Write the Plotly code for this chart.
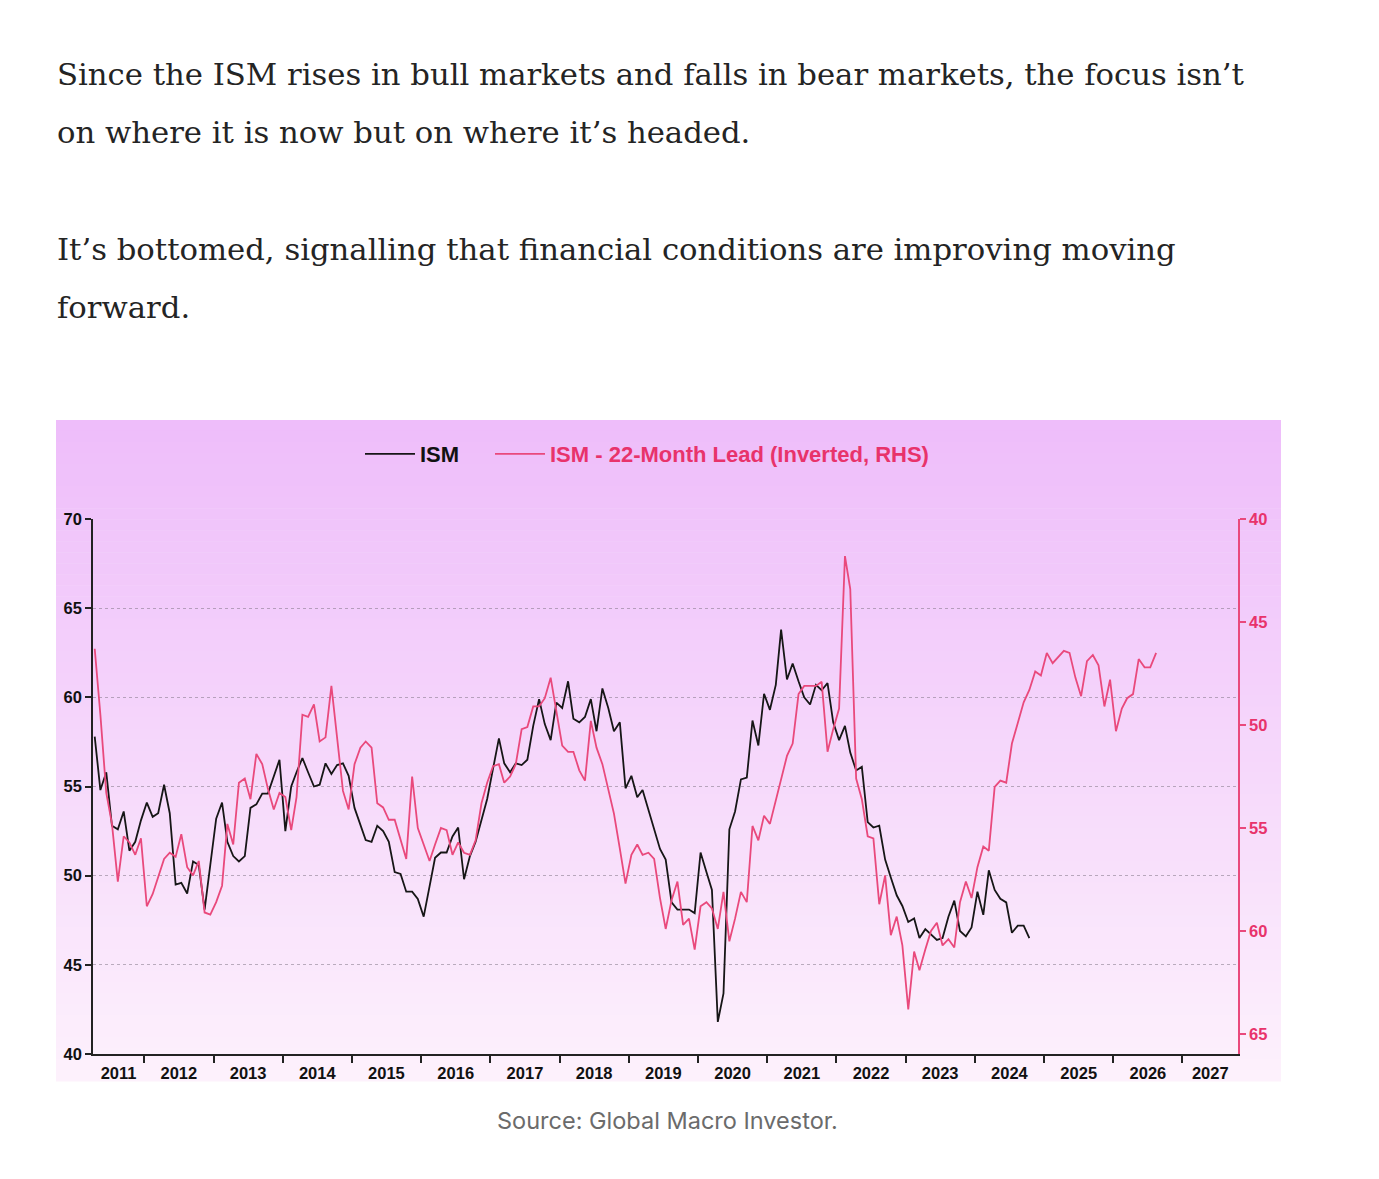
import plotly.graph_objects as go
import pandas as pd

# ---------------- data ----------------
# Monthly ISM Manufacturing PMI, Jun 2009 .. Oct 2024
ism_first_month = "2009-06-01"
ism_values = [
    # 2009 Jun-Dec
    46.3, 49.5, 53.3, 54.8, 57.6, 55.4, 55.7,
    # 2010
    56.3, 55.5, 58.8, 58.2, 57.4, 56.5, 56.2, 56.4, 55.3, 56.9, 57.3, 56.6,
    # 2011
    59.1, 59.2, 58.6, 57.8, 54.8, 55.8, 52.8, 52.6, 53.6, 51.4, 51.9, 53.1,
    # 2012
    54.1, 53.3, 53.5, 55.1, 53.5, 49.5, 49.6, 49.0, 50.8, 50.6, 48.1, 50.6,
    # 2013
    53.2, 54.1, 51.9, 51.1, 50.8, 51.1, 53.8, 54.0, 54.6, 54.6, 55.6, 56.5,
    # 2014
    52.5, 55.0, 55.8, 56.6, 55.8, 55.0, 55.1, 56.3, 55.7, 56.2, 56.3, 55.6,
    # 2015
    53.8, 52.8, 52.0, 51.9, 52.8, 52.5, 51.9, 50.2, 50.1, 49.1, 49.1, 48.7,
    # 2016
    47.7, 49.4, 51.0, 51.3, 51.3, 52.2, 52.7, 49.8, 51.1, 51.9, 53.1, 54.3,
    # 2017
    56.0, 57.7, 56.3, 55.8, 56.3, 56.2, 56.5, 58.4, 59.9, 58.5, 57.6, 59.7,
    # 2018
    59.4, 60.9, 58.8, 58.6, 58.9, 59.9, 58.1, 60.5, 59.4, 58.1, 58.6, 54.9,
    # 2019
    55.6, 54.4, 54.8, 53.7, 52.6, 51.5, 50.9, 48.5, 48.1, 48.1, 48.1, 47.9,
    # 2020
    51.3, 50.2, 49.2, 41.8, 43.4, 52.6, 53.6, 55.4, 55.5, 58.7, 57.3, 60.2,
    # 2021
    59.3, 60.7, 63.8, 61.0, 61.9, 60.9, 60.0, 59.6, 60.7, 60.4, 60.8, 58.6,
    # 2022
    57.6, 58.4, 56.9, 55.9, 56.1, 53.0, 52.7, 52.8, 50.9, 49.9, 48.9, 48.3,
    # 2023
    47.4, 47.6, 46.5, 47.0, 46.7, 46.4, 46.5, 47.7, 48.6, 46.9, 46.6, 47.1,
    # 2024 Jan-Oct
    49.1, 47.8, 50.3, 49.2, 48.7, 48.5, 46.8, 47.2, 47.2, 46.5,
]
ism_shown_from = "2011-04-01"      # first month of the black ISM line
lead_months = 22                     # lead applied to the pink series

years = list(range(2011, 2028))
left_ticks = [40, 45, 50, 55, 60, 65, 70]
right_ticks = [40, 45, 50, 55, 60, 65]
x_range = ["2011-04-06", "2027-10-21"]

name_ism = "ISM"
name_lead = "ISM - 22-Month Lead (Inverted, RHS)"

# ---------------- series ----------------
months = pd.date_range(ism_first_month, periods=len(ism_values), freq="MS") + pd.Timedelta(days=14)
ism = pd.Series(ism_values, index=months)
ism_black = ism[ism.index >= pd.Timestamp(ism_shown_from)]
lead_dates = [d + pd.DateOffset(months=lead_months) for d in ism.index]

# ---------------- geometry helpers (pixels -> paper) ----------------
W, H = 1379, 1179
L, R, T, B = 93, 1238, 519, 1054


def px(x):
    return (x - L) / (R - L)


def py(y):
    return 1 - (y - T) / (B - T)


PINK = "#e9497c"
PINK_TXT = "#e8336b"
CHART_FONT = "Liberation Sans Narrow, Arial Narrow, Liberation Sans, Arial, sans-serif"

fig = go.Figure()

fig.add_trace(go.Scatter(
    x=ism_black.index, y=ism_black.values, name=name_ism, mode="lines",
    line=dict(color="#161616", width=1.8), yaxis="y", legend="legend",
))
fig.add_trace(go.Scatter(
    x=lead_dates, y=ism.values, name=name_lead,
    mode="lines", line=dict(color=PINK, width=1.8), yaxis="y2", legend="legend2",
))

# ---------------- background gradient panel ----------------
shapes = []
top_c = (238, 189, 250)
bot_c = (253, 241, 252)
y_top, y_bot = 420, 1081
n = 60
for i in range(n):
    f = i / (n - 1)
    c = tuple(round(top_c[k] + (bot_c[k] - top_c[k]) * f) for k in range(3))
    y0 = y_top + (y_bot - y_top) * i / n
    y1 = y_top + (y_bot - y_top) * (i + 1) / n + 0.6
    shapes.append(dict(
        type="rect", xref="paper", yref="paper", layer="below",
        x0=px(56), x1=px(1281), y0=py(y0), y1=py(y1),
        line=dict(width=0), fillcolor="rgb(%d,%d,%d)" % c,
    ))

# ---------------- x tick marks at year boundaries, labels centred in each year ----------------
x0, x1 = pd.Timestamp(x_range[0]), pd.Timestamp(x_range[1])
boundaries = [pd.Timestamp(f"{y}-01-01") for y in years if x0 < pd.Timestamp(f"{y}-01-01") < x1]
label_pos = []
for y in years:
    a = max(pd.Timestamp(f"{y}-01-01"), x0)
    b = min(pd.Timestamp(f"{y + 1}-01-01"), x1)
    label_pos.append(a + (b - a) / 2)

# ---------------- annotations (page text) ----------------
SERIF = "DejaVu Serif, Liberation Serif, Georgia, serif"
annotations = []
for txt, yc in [
    ("Since the ISM rises in bull markets and falls in bear markets, the focus isn’t", 74),
    ("on where it is now but on where it’s headed.", 132),
    ("It’s bottomed, signalling that financial conditions are improving moving", 249),
    ("forward.", 307),
]:
    annotations.append(dict(
        text=txt, xref="paper", yref="paper", x=px(55), y=py(yc),
        xanchor="left", yanchor="middle", showarrow=False,
        font=dict(family=SERIF, size=30.7, color="#242424"),
    ))
annotations.append(dict(
    text="Source: Global Macro Investor.", xref="paper", yref="paper",
    x=px(668), y=py(1120), xanchor="center", yanchor="middle", showarrow=False,
    font=dict(family="Inter, Liberation Sans, Arial, sans-serif", size=23.5, color="#6b6b6b"),
))

tickfont = dict(family=CHART_FONT, size=16.5, color="#111111", weight="bold")
legend_common = dict(
    orientation="h", yanchor="middle", y=py(454), xanchor="left",
    bgcolor="rgba(0,0,0,0)", itemwidth=50,
)

fig.update_layout(
    width=W, height=H,
    margin=dict(l=L, r=W - R, t=T, b=H - B, pad=0),
    paper_bgcolor="white",
    plot_bgcolor="rgba(0,0,0,0)",
    shapes=shapes,
    annotations=annotations,
    showlegend=True,
    legend=dict(legend_common, x=px(360),
                font=dict(family=CHART_FONT, size=22, color="#111111", weight="bold")),
    legend2=dict(legend_common, x=px(490),
                 font=dict(family=CHART_FONT, size=22, color=PINK_TXT, weight="bold")),
    xaxis=dict(
        type="date", range=x_range, showgrid=False, zeroline=False,
        tickvals=label_pos, ticktext=[str(y) for y in years], ticks="",
        tickfont=tickfont, ticklabelstandoff=3,
        showline=True, linecolor="#222222", linewidth=1.5,
        minor=dict(tickvals=boundaries, ticks="outside", ticklen=7, tickcolor="#222222", tickwidth=1.5, showgrid=False),
    ),
    yaxis=dict(
        range=[40, 70], tickvals=left_ticks, ticks="outside", ticklen=6,
        tickcolor="#222222", tickwidth=1.5, tickfont=tickfont,
        showline=True, linecolor="#222222", linewidth=1.5,
        showgrid=True, gridcolor="rgba(120,110,125,0.5)", gridwidth=1, griddash="dot",
        zeroline=False,
    ),
    yaxis2=dict(
        overlaying="y", side="right", range=[65.97, 40], tickvals=right_ticks,
        ticks="outside", ticklen=6, tickcolor=PINK, tickwidth=1.5,
        tickfont=dict(family=CHART_FONT, size=16.5, color=PINK_TXT, weight="bold"),
        showline=True, linecolor=PINK, linewidth=1.5, showgrid=False, zeroline=False,
    ),
)

fig.write_html("out.html")
